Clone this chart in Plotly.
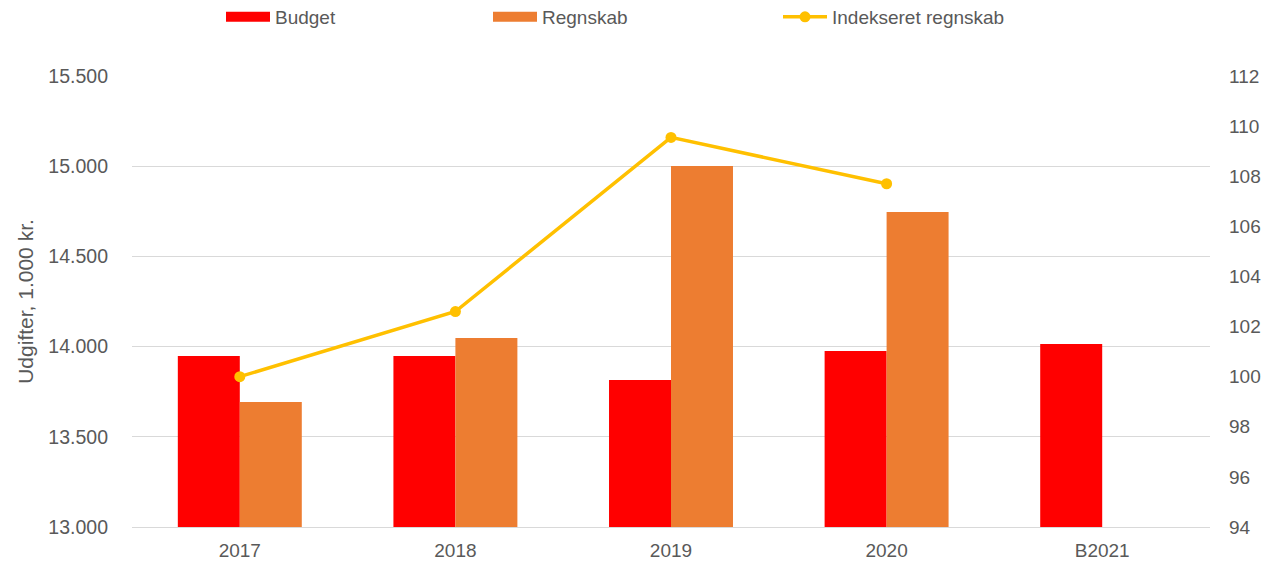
import plotly.graph_objects as go

# Data
categories = ["2017", "2018", "2019", "2020", "B2021"]
budget = [13948, 13948, 13815, 13976, 14014]
regnskab = [13693, 14048, 15001, 14746, None]
indeks = [100.0, 102.6, 109.55, 107.7, None]

W, H = 1265, 561
FONT = "Arial, Liberation Sans, sans-serif"
GREY = "#595959"
RED, ORANGE, GOLD = "#FF0000", "#ED7D31", "#FFC000"

fig = go.Figure()
fig.add_trace(go.Bar(x=categories, y=budget, name="Budget",
                     marker=dict(color=RED, line=dict(width=0)),
                     legendgroup="budget", showlegend=False))
fig.add_trace(go.Bar(x=categories, y=regnskab, name="Regnskab",
                     marker=dict(color=ORANGE, line=dict(width=0)),
                     legendgroup="regnskab", showlegend=False))
fig.add_trace(go.Scatter(x=categories, y=indeks, name="Indekseret regnskab",
                         yaxis="y2", mode="lines+markers",
                         line=dict(color=GOLD, width=3.5),
                         marker=dict(color=GOLD, size=11),
                         legend="legend3"))

# wide rectangular legend keys for the bar series
fig.add_trace(go.Scatter(x=[None], y=[None], name="Budget", mode="lines",
                         line=dict(color=RED, width=10),
                         legendgroup="budget", legend="legend"))
fig.add_trace(go.Scatter(x=[None], y=[None], name="Regnskab", mode="lines",
                         line=dict(color=ORANGE, width=10),
                         legendgroup="regnskab", legend="legend2"))

def leg(px):
    return dict(orientation="h", x=px / W, y=1 - 17 / H, xref="container",
                yref="container", xanchor="left", yanchor="middle",
                font=dict(family=FONT, size=19, color=GREY),
                bgcolor="rgba(0,0,0,0)", itemwidth=44)

fig.update_layout(
    width=W, height=H,
    showlegend=True,
    paper_bgcolor="white", plot_bgcolor="white",
    separators=",.",
    barmode="group", bargap=0.425, bargroupgap=0,
    margin=dict(l=132, r=55, t=76, b=34, autoexpand=False),
    font=dict(family=FONT, size=19, color=GREY),
    legend=leg(221),
    legend2=leg(488),
    legend3=leg(778),
    xaxis=dict(showgrid=False, showline=True, linecolor="#D9D9D9", linewidth=1,
               ticks="", ticklabelstandoff=6, automargin=False,
               tickfont=dict(size=19, color=GREY)),
    yaxis=dict(range=[13000, 15500], dtick=500, tickformat=",d",
               showgrid=True, gridcolor="#D9D9D9", gridwidth=1,
               zeroline=False, showline=False, ticks="",
               ticklabelstandoff=23, automargin=False,
               tickfont=dict(size=19.5, color=GREY),
               title=dict(text="Udgifter, 1.000 kr.", standoff=8,
                          font=dict(size=21, color=GREY))),
    yaxis2=dict(range=[94, 112], dtick=2, overlaying="y", side="right",
                showgrid=False, zeroline=False, showline=False, ticks="",
                ticklabelstandoff=18, automargin=False,
                tickfont=dict(size=19, color=GREY)),
)

fig.write_html("out.html")
